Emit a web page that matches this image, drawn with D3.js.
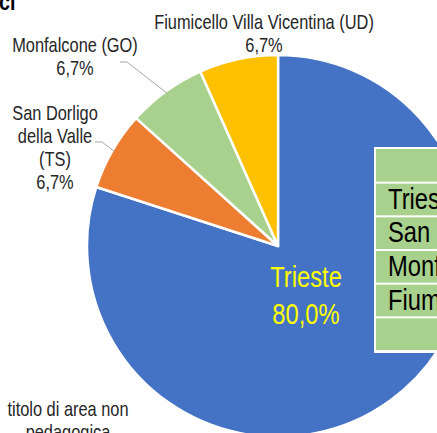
<!DOCTYPE html>
<html>
<head>
<meta charset="utf-8">
<script src="https://cdn.jsdelivr.net/npm/d3@7"></script>
<style>
  body { margin: 0; background: #fff; }
  svg { display: block; font-family: "Liberation Sans", Arial, sans-serif; }
</style>
</head>
<body>
<div id="chart"></div>
<script>
// data
const categories = ['Trieste', 'San Dorligo della Valle (TS)', 'Monfalcone (GO)', 'Fiumicello Villa Vicentina (UD)']
const counts = [12, 1, 1, 1]
const colorsList = ['#4472C4', '#ED7D31', '#A9D18E', '#FFC000']
const labelLines = [['Trieste'], ['San Dorligo', 'della Valle', '(TS)'], ['Monfalcone (GO)'], ['Fiumicello Villa Vicentina (UD)']]
const tableRows = ['', 'Trieste', 'San Dorligo della Valle (TS)', 'Monfalcone (GO)', 'Fiumicello Villa Vicentina (UD)', '']
const extraLabel = ['titolo di area non', 'pedagogica']

const width = 437
const height = 433
const cx = 278
const cy = 246
const radius = 191
const narrow = 0.82 // the original text is a narrow face, squeeze Liberation Sans

const svg = d3.select('#chart').append('svg')
  .attr('width', width)
  .attr('height', height)

// multi-line text, squeezed horizontally
function addText(parent, lines, x, y, step, size, fill, anchor, weight) {
  const t = parent.append('g')
    .attr('transform', `translate(${x},0) scale(${narrow},1)`)
    .append('text')
    .attr('text-anchor', anchor || 'middle')
    .attr('font-size', size)
    .attr('font-weight', weight || 'normal')
    .attr('fill', fill)
  t.selectAll('tspan')
    .data(lines)
    .enter()
    .append('tspan')
    .attr('x', 0)
    .attr('y', (d, k) => y + k * step)
    .text((d) => d)
  return t
}

// cropped title remnant
addText(svg, ['ci'], -1, 10, 0, 24, '#000', 'start', 'bold')

const total = d3.sum(counts)
const pie = d3.pie().sort(null).value((d) => d)
const arcs = pie(counts)
const arc = d3.arc().innerRadius(0).outerRadius(radius)

const g = svg.append('g').attr('transform', `translate(${cx},${cy})`)

g.selectAll('path')
  .data(arcs)
  .enter()
  .append('path')
  .attr('d', arc)
  .attr('fill', (d, i) => colorsList[i])
  .attr('stroke', '#fff')
  .attr('stroke-width', 2.5)
  .attr('stroke-linejoin', 'round')

const fmt = (v) => (v * 100).toFixed(1).replace('.', ',') + '%'

// Trieste label inside the slice
addText(svg, [labelLines[0][0], fmt(counts[0] / total)], cx + 28, 287, 37, 29, '#FFFF00')

// outside labels: centre x, first baseline y, line step, leader elbow
const outside = [
  null,
  { x: 55, y: 120, step: 23, elbow: [95, 142] },
  { x: 75, y: 52, step: 23, elbow: [120, 62] },
  { x: 264, y: 29, step: 23, elbow: null }
]

outside.forEach((o, i) => {
  if (!o) return
  addText(svg, labelLines[i].concat([fmt(counts[i] / total)]), o.x, o.y, o.step, 20, '#262626')

  if (o.elbow) {
    const a = (arcs[i].startAngle + arcs[i].endAngle) / 2
    const ex = cx + Math.sin(a) * (radius - 2)
    const ey = cy - Math.cos(a) * (radius - 2)
    svg.append('path')
      .attr('d', `M${o.elbow[0]},${o.elbow[1]}h7L${ex},${ey}`)
      .attr('fill', 'none')
      .attr('stroke', '#a6a6a6')
      .attr('stroke-width', 1)
  }
})

// bottom label of the cropped region
addText(svg, extraLabel, 68, 416, 23, 20, '#262626')

// data table (cropped on the right)
const tx = 374
const ty = 147
const tw = 120
const rowY = d3.scaleBand().domain(d3.range(tableRows.length)).range([ty + 2, 351]).padding(0)

svg.append('rect')
  .attr('x', tx)
  .attr('y', ty)
  .attr('width', tw)
  .attr('height', 206)
  .attr('fill', '#fff')

const rows = svg.append('g').selectAll('g')
  .data(tableRows)
  .enter()
  .append('g')

rows.append('rect')
  .attr('x', tx + 2)
  .attr('y', (d, i) => rowY(i) + (i === 0 ? 0 : 1))
  .attr('width', tw)
  .attr('height', (d, i) => rowY.bandwidth() - (i === 0 ? 1 : 2))
  .attr('fill', '#A9D18E')

rows.each(function (d, i) {
  addText(d3.select(this), [d], tx + 14, rowY(i) + 26, 0, 29, '#000', 'start')
})
</script>
</body>
</html>
